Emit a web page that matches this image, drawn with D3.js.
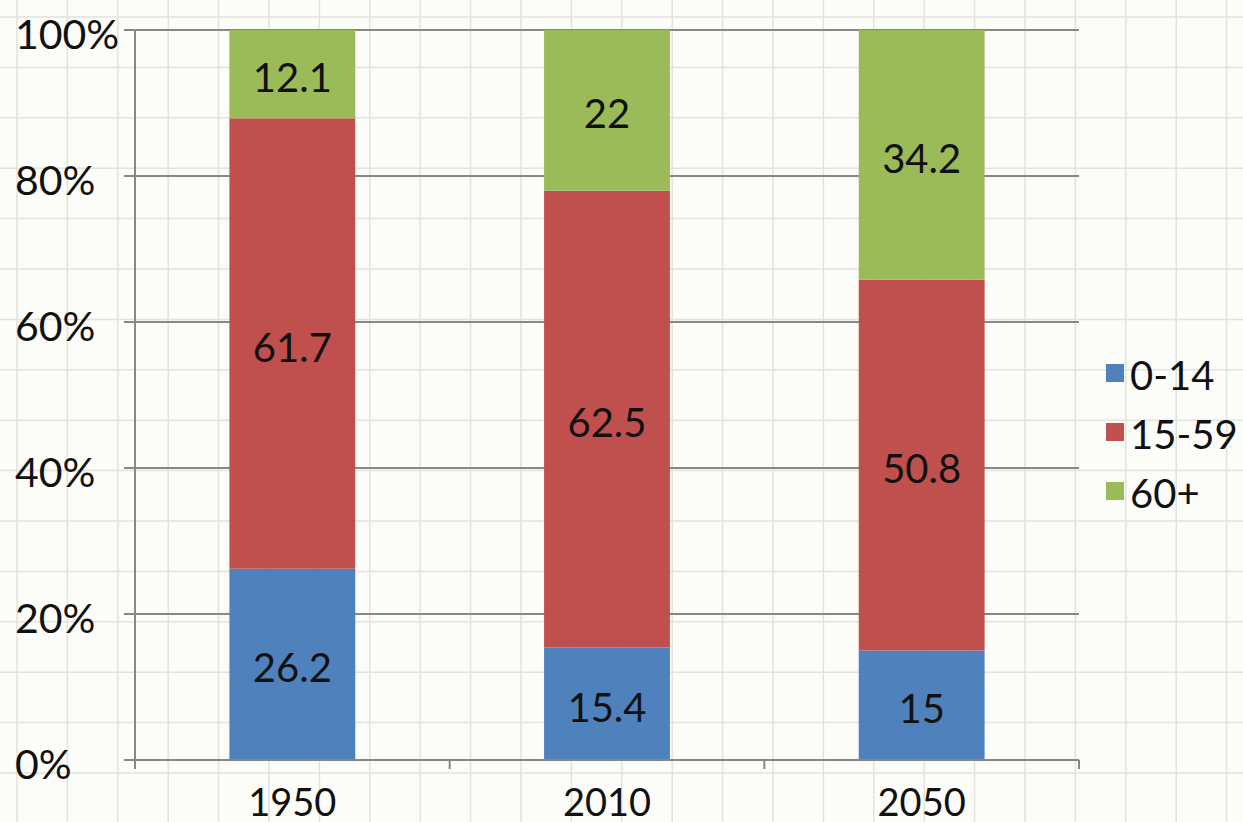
<!DOCTYPE html>
<html>
<head>
<meta charset="utf-8">
<script src="https://cdn.jsdelivr.net/npm/d3@7"></script>
<style>
  html, body { margin: 0; padding: 0; background: #fcfcf8; }
  svg { display: block; }
  text { font-family: Lato, "Open Sans", sans-serif; fill: #111; }
</style>
</head>
<body>
<svg id="chart" width="1243" height="822"></svg>
<script>
const years = ["1950", "2010", "2050"];
const groups = ["0-14", "15-59", "60+"];
const age0_14 = [26.2, 15.4, 15];
const age15_59 = [61.7, 62.5, 50.8];
const age60plus = [12.1, 22, 34.2];
const colors = ["#4f81bd", "#c0504d", "#9bbb59"];
const yTicks = [0, 0.2, 0.4, 0.6, 0.8, 1];

const W = 1243, H = 822;
const svg = d3.select("#chart");

// graph paper background
const bg = svg.append("g");
const gstep = 50.4;
d3.range(17, W, gstep).forEach(gx => {
  bg.append("line").attr("x1", gx).attr("x2", gx).attr("y1", 0).attr("y2", H)
    .attr("stroke", "#e3e3de").attr("stroke-width", 1.5);
});
d3.range(17, H, gstep).forEach(gyy => {
  bg.append("line").attr("y1", gyy).attr("y2", gyy).attr("x1", 0).attr("x2", W)
    .attr("stroke", "#e3e3de").attr("stroke-width", 1.5);
});

const table = years.map((yr, i) => ({ year: yr, "0-14": age0_14[i], "15-59": age15_59[i], "60+": age60plus[i] }));
const stack = d3.stack().keys(groups).offset(d3.stackOffsetExpand);
const series = stack(table);

const pLeft = 135, pRight = 1079, pTop = 30, pBottom = 760;
const x = d3.scaleBand().domain(years).range([pLeft, pRight]).paddingInner(0.6).paddingOuter(0.3);
const y = d3.scaleLinear().domain([0, 1]).range([pBottom, pTop]);
const axisColor = "#878787";

// horizontal gridlines + left tick labels
const gy = svg.append("g");
yTicks.forEach(t => {
  gy.append("line").attr("x1", pLeft - 11).attr("x2", pRight)
    .attr("y1", y(t)).attr("y2", y(t))
    .attr("stroke", axisColor).attr("stroke-width", 2);
  gy.append("text").attr("x", 15).attr("y", y(t) + 3)
    .attr("dominant-baseline", "central")
    .attr("font-size", 41)
    .text(d3.format(".0%")(t));
});

// bars
const bars = svg.append("g");
series.forEach((s, si) => {
  bars.selectAll(null).data(s).enter().append("rect")
    .attr("x", d => x(d.data.year))
    .attr("width", x.bandwidth())
    .attr("y", d => y(d[1]))
    .attr("height", d => y(d[0]) - y(d[1]))
    .attr("fill", colors[si]);
  bars.selectAll(null).data(s).enter().append("text")
    .attr("x", d => x(d.data.year) + x.bandwidth() / 2)
    .attr("y", d => (y(d[0]) + y(d[1])) / 2 + 3)
    .attr("text-anchor", "middle")
    .attr("dominant-baseline", "central")
    .attr("font-size", 40)
    .text(d => d.data[s.key]);
});

// axes
svg.append("line").attr("x1", pLeft).attr("x2", pLeft).attr("y1", pTop).attr("y2", pBottom + 9)
  .attr("stroke", axisColor).attr("stroke-width", 2);
svg.append("line").attr("x1", pLeft - 11).attr("x2", pRight).attr("y1", pBottom).attr("y2", pBottom)
  .attr("stroke", axisColor).attr("stroke-width", 2);
const step = x.step();
d3.range(years.length + 1).forEach(i => {
  const xx = pLeft + i * step;
  svg.append("line").attr("x1", xx).attr("x2", xx).attr("y1", pBottom).attr("y2", pBottom + 9)
    .attr("stroke", axisColor).attr("stroke-width", 2);
});
years.forEach(yr => {
  svg.append("text").attr("x", x(yr) + x.bandwidth() / 2).attr("y", 801)
    .attr("text-anchor", "middle").attr("dominant-baseline", "central")
    .attr("font-size", 38).text(yr);
});

// legend
const lg = svg.append("g");
groups.forEach((g, i) => {
  const cy = 373 + i * 59;
  lg.append("rect").attr("x", 1106).attr("y", cy - 9).attr("width", 18).attr("height", 18)
    .attr("fill", colors[i]);
  lg.append("text").attr("x", 1130).attr("y", cy + 2)
    .attr("dominant-baseline", "central").attr("font-size", 40).text(g);
});
</script>
</body>
</html>
